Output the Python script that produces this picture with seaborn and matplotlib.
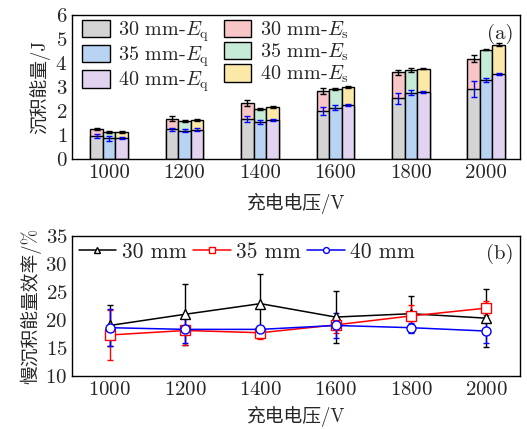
import matplotlib
matplotlib.use("Agg")
import matplotlib.pyplot as plt
from matplotlib.patches import Patch, Rectangle
from matplotlib.legend_handler import HandlerPatch
from matplotlib.ticker import MultipleLocator
import seaborn as sns
import pandas as pd

# charging voltage (V)
voltages = [1000, 1200, 1400, 1600, 1800, 2000]
thicknesses = ["30 mm", "35 mm", "40 mm"]

# (a) deposited energy, J
eq_30 = [0.96, 1.24, 1.66, 2.01, 2.53, 2.92]
eq_35 = [0.86, 1.18, 1.55, 2.14, 2.76, 3.29]
eq_40 = [0.88, 1.23, 1.62, 2.24, 2.79, 3.55]
es_30 = [0.29, 0.45, 0.69, 0.82, 1.08, 1.26]
es_35 = [0.26, 0.40, 0.54, 0.77, 0.94, 1.27]
es_40 = [0.25, 0.40, 0.56, 0.76, 0.98, 1.22]
eq_err_30 = [0.10, 0.07, 0.13, 0.16, 0.22, 0.35]
eq_err_35 = [0.09, 0.07, 0.10, 0.10, 0.11, 0.08]
eq_err_40 = [0.05, 0.07, 0.05, 0.04, 0.03, 0.05]
tot_err_30 = [0.05, 0.09, 0.12, 0.13, 0.11, 0.15]
tot_err_35 = [0.04, 0.05, 0.04, 0.05, 0.09, 0.03]
tot_err_40 = [0.03, 0.03, 0.03, 0.05, 0.03, 0.07]

# (b) slow deposition energy efficiency, %
eff_30 = [19.0, 21.0, 22.9, 20.5, 21.1, 20.3]
eff_35 = [17.3, 18.1, 17.7, 19.1, 20.7, 22.1]
eff_40 = [18.6, 18.3, 18.3, 19.0, 18.6, 18.0]
eff_err_30 = [3.7, 5.5, 5.3, 4.7, 3.2, 5.2]
eff_err_35 = [4.4, 2.6, 1.2, 1.5, 1.9, 1.3]
eff_err_40 = [3.3, 2.5, 0.6, 2.2, 0.9, 2.2]

eq_colors = ["#d4d4d4", "#b9d3f3", "#e2d3f1"]
es_colors = ["#f8c6c7", "#c6ebd6", "#fde9a7"]
line_colors = ["black", "red", "blue"]
line_markers = ["^", "s", "o"]

sns.set_style("white")
plt.rcParams["font.family"] = ["cmr10", "Noto Sans CJK SC"]
plt.rcParams["mathtext.fontset"] = "cm"
plt.rcParams["axes.formatter.use_mathtext"] = True
plt.rcParams["axes.unicode_minus"] = False

FS = 15        # tick labels
FS_LEG = 14.5  # legend text (panel a)
FS_LAB = 13.5  # axis titles (CJK)


def small_box(legend, orig_handle, xdescent, ydescent, width, height, fontsize):
    # legend box drawn shorter than the row so both columns line up
    h = 0.85 * fontsize
    return Rectangle((-xdescent, -ydescent + (height - h) / 2), width, h)


# long table for the bars
rows = []
for thick, eq, es, e1, e2 in zip(thicknesses, [eq_30, eq_35, eq_40],
                                 [es_30, es_35, es_40],
                                 [eq_err_30, eq_err_35, eq_err_40],
                                 [tot_err_30, tot_err_35, tot_err_40]):
    for v, a, b, ea, eb in zip(voltages, eq, es, e1, e2):
        rows.append({"voltage": str(v), "thick": thick, "eq": a,
                     "total": a + b, "eq_err": ea, "tot_err": eb})
bars = pd.DataFrame(rows)

fig = plt.figure(figsize=(5.27, 4.29), dpi=100)
ax1 = fig.add_axes([0.137, 0.629, 0.850, 0.336])
ax2 = fig.add_axes([0.137, 0.124, 0.850, 0.326])

# stacked bars: total drawn first, Eq on top of it from zero
sns.barplot(data=bars, x="voltage", y="total", hue="thick", palette=es_colors,
            width=0.5, saturation=1, edgecolor="black", linewidth=1,
            errorbar=None, legend=False, ax=ax1)
sns.barplot(data=bars, x="voltage", y="eq", hue="thick", palette=eq_colors,
            width=0.5, saturation=1, edgecolor="black", linewidth=1,
            errorbar=None, legend=False, ax=ax1)

for i, thick in enumerate(thicknesses):
    sub = bars[bars["thick"] == thick]
    xs_tot = [b.get_x() + b.get_width() / 2 for b in ax1.containers[i]]
    xs_eq = [b.get_x() + b.get_width() / 2 for b in ax1.containers[i + 3]]
    ax1.errorbar(xs_tot, sub["total"], yerr=sub["tot_err"], fmt="none",
                 ecolor="black", elinewidth=1, capsize=2.5, capthick=1, zorder=5)
    ax1.errorbar(xs_eq, sub["eq"], yerr=sub["eq_err"], fmt="none",
                 ecolor="blue", elinewidth=1, capsize=2.5, capthick=1, zorder=5)

ax1.set_xlim(-0.49, 5.45)
ax1.set_ylim(0, 6)
ax1.yaxis.set_major_locator(MultipleLocator(1))
ax1.set_xlabel("充电电压/V", fontsize=FS_LAB, labelpad=8)
ax1.set_ylabel("沉积能量/J", fontsize=FS_LAB, labelpad=4)
ax1.text(0.985, 0.87, "(a)", transform=ax1.transAxes, ha="right",
         va="center", fontsize=FS)

handles = []
labels = []
for thick, c in zip(thicknesses, eq_colors):
    handles.append(Patch(facecolor=c, edgecolor="black", linewidth=1))
    labels.append(thick + r"-$E_\mathrm{q}$")
for thick, c in zip(thicknesses, es_colors):
    handles.append(Patch(facecolor=c, edgecolor="black", linewidth=1))
    labels.append(thick + r"-$E_\mathrm{s}$")
ax1.legend(handles, labels, ncol=2, loc="upper left",
           bbox_to_anchor=(0.014, 1.0), frameon=False,
           fontsize=FS_LEG, handlelength=1.35, handleheight=1.12,
           handletextpad=0.4, columnspacing=0.75, labelspacing=0.0,
           borderaxespad=0.05, borderpad=0.15,
           handler_map={Patch: HandlerPatch(patch_func=small_box)})

# (b) efficiency lines
eff = [eff_30, eff_35, eff_40]
eff_err = [eff_err_30, eff_err_35, eff_err_40]
for i, thick in enumerate(thicknesses):
    ax2.errorbar(voltages, eff[i], yerr=eff_err[i], fmt="none",
                 ecolor=line_colors[i], elinewidth=1, capsize=2.5,
                 capthick=1, zorder=2 + i)
for i, thick in enumerate(thicknesses):
    sns.lineplot(x=voltages, y=eff[i], color=line_colors[i],
                 marker=line_markers[i], markersize=6.5, mfc="white",
                 mec=line_colors[i], mew=1, linewidth=1.1, label=thick,
                 zorder=5 + i, ax=ax2)

ax2.set_xlim(900, 2090)
ax2.set_ylim(10, 35)
ax2.xaxis.set_major_locator(MultipleLocator(200))
ax2.xaxis.set_minor_locator(MultipleLocator(100))
ax2.yaxis.set_major_locator(MultipleLocator(5))
ax2.set_xlabel("充电电压/V", fontsize=FS_LAB, labelpad=5)
ax2.set_ylabel("慢沉积能量效率/%", fontsize=FS_LAB, labelpad=3)
ax2.text(0.985, 0.87, "(b)", transform=ax2.transAxes, ha="right",
         va="center", fontsize=FS)
ax2.legend(loc="upper left", ncol=3, frameon=False, fontsize=15.5,
           handlelength=1.75, handletextpad=0.25, columnspacing=0.3,
           markerscale=0.65, borderaxespad=0.1, borderpad=0.2)

for ax in (ax1, ax2):
    for s in ax.spines.values():
        s.set_linewidth(1)
        s.set_color("black")
    ax.tick_params(which="both", direction="in", labelsize=FS,
                   color="black", width=0.8)
    ax.tick_params(which="major", length=3.5)
    ax.tick_params(which="minor", length=2)

fig.savefig("out.png", dpi=100)
